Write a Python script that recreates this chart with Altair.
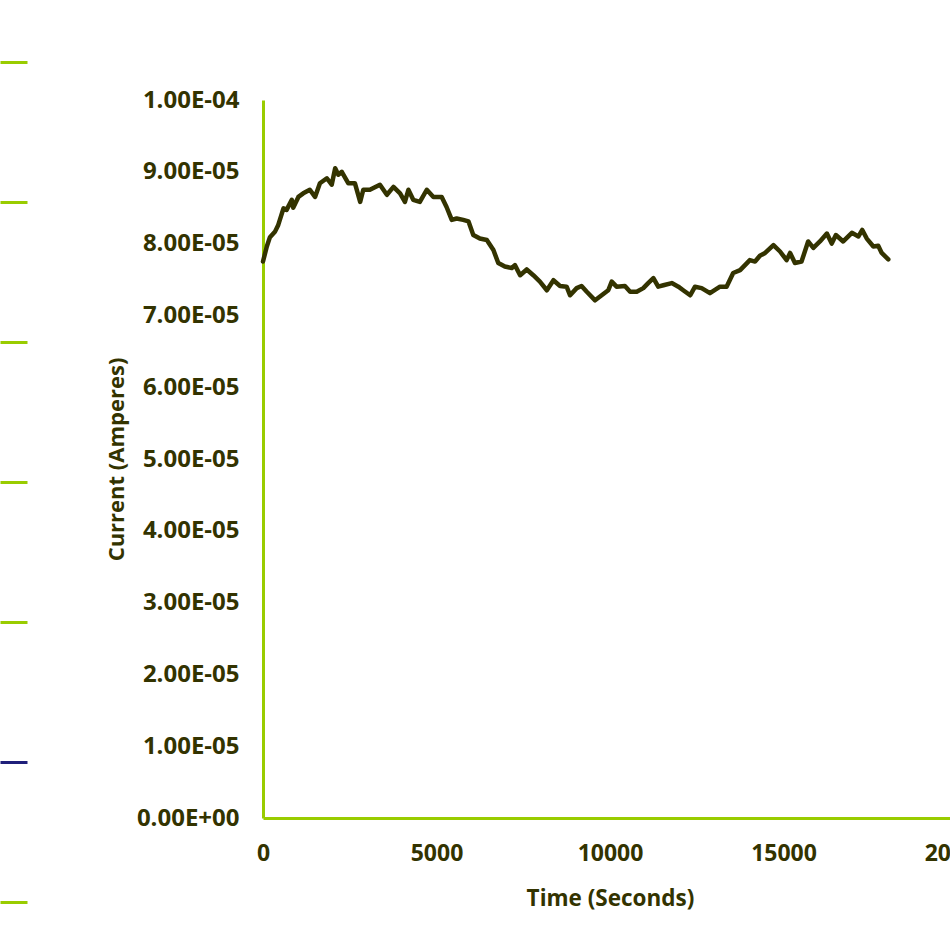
import json

import altair as alt
import pandas as pd

# Logged current over time
time_s = [
    0, 110, 200, 350, 440, 590, 680, 830, 870, 1020,
    1160, 1350, 1500, 1640, 1840, 1980, 2080, 2170, 2270, 2460,
    2650, 2800, 2890, 3080, 3370, 3570, 3760, 3950, 4090, 4190,
    4330, 4520, 4720, 4910, 5150, 5290, 5440, 5580, 5770, 5920,
    6060, 6250, 6450, 6640, 6780, 6970, 7170, 7260, 7410, 7600,
    7790, 7980, 8180, 8370, 8560, 8750, 8850, 9040, 9180, 9330,
    9570, 9760, 9950, 10050, 10190, 10430, 10580, 10770, 10960, 11100,
    11250, 11390, 11540, 11780, 11970, 12110, 12310, 12450, 12640, 12880,
    13170, 13360, 13550, 13750, 14030, 14180, 14320, 14470, 14710, 14900,
    15090, 15190, 15330, 15520, 15710, 15860, 16050, 16250, 16390, 16510,
    16720, 16970, 17160, 17270, 17400, 17590, 17730, 17830, 18020,
]
current_a = [
    7.75e-5, 7.96e-5, 8.09e-5, 8.17e-5, 8.26e-5, 8.49e-5, 8.47e-5, 8.61e-5, 8.50e-5, 8.65e-5,
    8.70e-5, 8.75e-5, 8.65e-5, 8.84e-5, 8.91e-5, 8.82e-5, 9.05e-5, 8.96e-5, 9.00e-5, 8.84e-5,
    8.84e-5, 8.58e-5, 8.75e-5, 8.75e-5, 8.82e-5, 8.68e-5, 8.79e-5, 8.70e-5, 8.58e-5, 8.75e-5,
    8.61e-5, 8.58e-5, 8.75e-5, 8.65e-5, 8.65e-5, 8.51e-5, 8.33e-5, 8.35e-5, 8.33e-5, 8.31e-5,
    8.12e-5, 8.07e-5, 8.05e-5, 7.91e-5, 7.73e-5, 7.68e-5, 7.66e-5, 7.70e-5, 7.56e-5, 7.64e-5,
    7.56e-5, 7.47e-5, 7.35e-5, 7.49e-5, 7.41e-5, 7.40e-5, 7.28e-5, 7.38e-5, 7.41e-5, 7.33e-5,
    7.21e-5, 7.28e-5, 7.35e-5, 7.47e-5, 7.40e-5, 7.41e-5, 7.33e-5, 7.33e-5, 7.38e-5, 7.45e-5,
    7.52e-5, 7.40e-5, 7.42e-5, 7.45e-5, 7.40e-5, 7.35e-5, 7.28e-5, 7.40e-5, 7.38e-5, 7.31e-5,
    7.40e-5, 7.40e-5, 7.59e-5, 7.63e-5, 7.77e-5, 7.75e-5, 7.83e-5, 7.87e-5, 7.98e-5, 7.89e-5,
    7.77e-5, 7.87e-5, 7.73e-5, 7.75e-5, 8.03e-5, 7.94e-5, 8.03e-5, 8.14e-5, 8.00e-5, 8.12e-5,
    8.03e-5, 8.15e-5, 8.10e-5, 8.19e-5, 8.07e-5, 7.96e-5, 7.97e-5, 7.87e-5, 7.78e-5,
]

# Axis ticks
x_tick_values = [0, 5000, 10000, 15000, 20000]
y_tick_values = [0, 1e-5, 2e-5, 3e-5, 4e-5, 5e-5, 6e-5, 7e-5, 8e-5, 9e-5, 1e-4]
y_tick_labels = [
    "0.00E+00", "1.00E-05", "2.00E-05", "3.00E-05", "4.00E-05", "5.00E-05",
    "6.00E-05", "7.00E-05", "8.00E-05", "9.00E-05", "1.00E-04",
]

# Marker strip at the left margin
strip_levels = [0, 1, 2, 3, 4, 5, 6]
strip_highlight = 1

GREEN = "#99CC00"
NAVY = "#1F1F7A"
INK = "#333300"
FONT = "Open Sans"

df = pd.DataFrame({"t": time_s, "i": current_a})
strip_df = pd.DataFrame({"level": strip_levels})

line = alt.Chart(df).mark_line(
    color=INK, strokeWidth=4.5, strokeJoin="round", strokeCap="round"
).encode(
    x=alt.X(
        "t:Q",
        scale=alt.Scale(domain=[0, 20000], range=[0, 694], nice=False, zero=True),
        axis=alt.Axis(
            values=x_tick_values,
            format="d",
            title="Time (Seconds)",
            labelFlush=False,
            labelFontSize=23,
            labelPadding=24,
            titleFontSize=22.5,
            titleX=347,
            titleY=87,
            titleBaseline="alphabetic",
        ),
    ),
    y=alt.Y(
        "i:Q",
        scale=alt.Scale(domain=[0, 1e-4], nice=False),
        axis=alt.Axis(
            values=y_tick_values,
            labelExpr=json.dumps(y_tick_labels) + "[round(datum.value * 1e5)]",
            title="Current (Amperes)",
            orient="left",
            labelFlush=False,
            labelFontSize=24,
            labelPadding=24,
            titleFontSize=22,
            titleX=-140,
            titleY=359,
            titleBaseline="alphabetic",
        ),
    ),
)

strip = alt.Chart(strip_df).mark_point(opacity=0).encode(
    y=alt.Y(
        "level:Q",
        scale=alt.Scale(domain=[0, 6], range=[802, -38], nice=False),
        axis=alt.Axis(
            orient="left",
            values=strip_levels,
            offset=236,
            ticks=True,
            tickSize=27,
            tickWidth=3,
            tickColor={
                "condition": {"test": f"datum.value === {strip_highlight}", "value": NAVY},
                "value": GREEN,
            },
            labels=False,
            domain=False,
            grid=False,
            title=None,
        ),
    ),
)

chart = (
    alt.layer(line, strip)
    .resolve_scale(y="independent")
    .properties(
        width=687,
        height=718,
        autosize=alt.AutoSizeParams(type="none"),
        padding={"left": 263, "top": 100, "right": 0, "bottom": 132},
        background="white",
    )
    .configure_view(strokeWidth=0)
    .configure_axis(
        domainColor=GREEN,
        domainWidth=3,
        ticks=False,
        grid=False,
        labelFont=FONT,
        labelFontWeight="bold",
        labelColor=INK,
        titleFont=FONT,
        titleFontWeight="bold",
        titleColor=INK,
    )
)

chart.save("out.html", embed_options={"renderer": "svg", "actions": False})
